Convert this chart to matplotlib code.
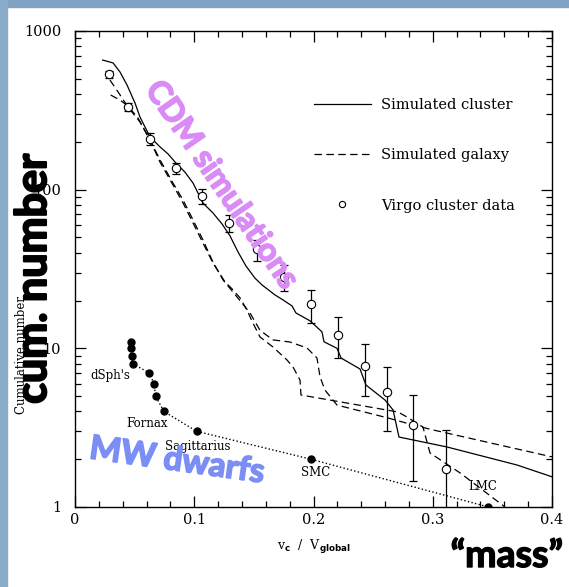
import matplotlib
matplotlib.use('Agg')
import matplotlib.pyplot as plt
import matplotlib.patheffects as pe
from matplotlib.ticker import MultipleLocator, LogLocator, NullFormatter, FuncFormatter
from matplotlib.patches import Rectangle
from matplotlib.lines import Line2D

# Simulated cluster (solid line)
cluster_x = [0.0232, 0.0319, 0.0377, 0.0436, 0.0503, 0.0545, 0.0629, 0.0713, 0.0780, 0.0847,
             0.0922, 0.0990, 0.1073, 0.1157, 0.1233, 0.1300, 0.1367, 0.1434, 0.1509, 0.1568,
             0.1677, 0.1744, 0.1820, 0.1853, 0.1971, 0.2071, 0.2088, 0.2197, 0.2231, 0.2390,
             0.2440, 0.2600, 0.2667, 0.2717, 0.3119, 0.3706, 0.4000]
cluster_y = [656, 629, 552, 457, 352, 287, 215, 186, 168, 147,
             129, 110, 82.4, 71.3, 60.8, 51.1, 40.5, 33.0, 27.7, 25.1,
             21.7, 20.2, 18.5, 16.7, 14.9, 12.7, 11.0, 10.0, 8.69, 7.41,
             5.87, 4.72, 4.09, 2.76, 2.39, 1.84, 1.55]

# Simulated galaxy, first run (dashed, ends at x = 0.4)
galA_x = [0.0293, 0.0361, 0.0444, 0.0545, 0.0629, 0.0713, 0.0822, 0.0906, 0.0990, 0.1073,
          0.1149, 0.1241, 0.1358, 0.1468, 0.1551, 0.1660, 0.1803, 0.1946, 0.2029, 0.2055,
          0.2096, 0.2197, 0.2625, 0.2834, 0.3002, 0.4000]
galA_y = [491, 413, 332, 267, 206, 154, 110, 86.1, 64.4, 48.2,
          36.0, 27.0, 21.1, 16.7, 13.0, 11.3, 10.96, 10.05, 8.69, 6.6,
          5.46, 4.39, 3.64, 3.29, 3.06, 2.07]

# Simulated galaxy, second run (dashed, drops down to 1)
galB_x = [0.0299, 0.0377, 0.0444, 0.0528, 0.0629, 0.0713, 0.0822, 0.0906, 0.0990, 0.1073,
          0.1157, 0.1258, 0.1317, 0.1384, 0.1442, 0.1493, 0.1551, 0.1660, 0.1778, 0.1828,
          0.1887, 0.1895, 0.2709, 0.2784, 0.2918, 0.2977, 0.3229, 0.3606]
galB_y = [395, 367, 337, 283, 206, 149, 107, 82.4, 61.6, 46.1,
          34.5, 26.2, 23.7, 20.8, 17.4, 14.4, 11.8, 10.2, 8.44, 7.63,
          6.31, 5.08, 3.97, 3.69, 3.19, 2.19, 1.64, 1.0]

# Virgo cluster data with error bars
virgo_x = [0.0285, 0.0447, 0.0629, 0.0844, 0.1068, 0.1294, 0.1524, 0.1755, 0.1976, 0.2208,
           0.2435, 0.2616, 0.2837, 0.3108]
virgo_y = [533, 330, 208, 136, 91, 62, 42, 28, 18.9, 12.2, 7.77, 5.33, 3.29, 1.74]
virgo_hi = [560, 350, 227, 148, 100.5, 69.3, 48.2, 33.5, 23.3, 15.7, 10.6, 7.66, 5.1, 3.06]
virgo_lo = [505, 313, 191, 125.5, 81.2, 54.1, 35.7, 23.1, 14.5, 8.65, 5.0, 3.0, 1.46, 0.5]

# Milky Way dwarfs
mw_x = [0.0467, 0.0467, 0.0475, 0.0484, 0.0623, 0.0662, 0.0676, 0.0746, 0.1020, 0.1979, 0.3466]
mw_y = [11, 10, 9, 8, 7, 6, 5, 4, 3, 2, 1]

# names of dwarfs
dwarf_names = ["dSph's", "Fornax", "Sagittarius", "SMC", "LMC"]
dwarf_lx = [0.0298, 0.0608, 0.1031, 0.2021, 0.3417]
dwarf_ly = [6.79, 3.38, 2.42, 1.64, 1.356]

W, H = 569, 587
fig = plt.figure(figsize=(W / 100, H / 100), dpi=100)
fig.patch.set_facecolor('white')

# slide border
fig.patches.append(Rectangle((0, 1 - 7 / H), 1, 7 / H, transform=fig.transFigure,
                             color='#7fa2c2', zorder=0))
fig.patches.append(Rectangle((0, 0), 6.5 / W, 1, transform=fig.transFigure,
                             color='#8aabca', zorder=0))

ax = fig.add_axes([75 / W, 80 / H, 477 / W, 476 / H])
serif = 'DejaVu Serif'
plt.rcParams['mathtext.fontset'] = 'dejavuserif'

l1, = ax.plot(cluster_x, cluster_y, color='black', lw=0.9)
l2, = ax.plot(galA_x, galA_y, color='black', lw=0.9, dashes=(6, 3.5))
ax.plot(galB_x, galB_y, color='black', lw=0.9, dashes=(6, 3.5))

yerr = [[v - lo for v, lo in zip(virgo_y, virgo_lo)], [hi - v for v, hi in zip(virgo_y, virgo_hi)]]
ax.errorbar(virgo_x, virgo_y, yerr=yerr, fmt='none', ecolor='black', elinewidth=0.9,
            capsize=3, capthick=0.9)
ax.plot(virgo_x, virgo_y, 'o', mfc='white', mec='black', ms=6, mew=0.8, zorder=3)

ax.plot(mw_x, mw_y, color='black', lw=1, ls=':', marker='o', ms=5, mfc='black', mec='black')
for name, lx, ly in zip(dwarf_names, dwarf_lx, dwarf_ly):
    ax.text(lx, ly, name, ha='center', va='center', fontsize=8.5, family=serif)

ax.set_yscale('log')
ax.set_xlim(0, 0.4)
ax.set_ylim(1, 1000)
ax.xaxis.set_major_locator(MultipleLocator(0.1))
ax.xaxis.set_minor_locator(MultipleLocator(0.02))
ax.xaxis.set_major_formatter(FuncFormatter(lambda v, p: '0' if abs(v) < 1e-9 else f'{v:.1f}'))
ax.yaxis.set_major_locator(LogLocator(base=10))
ax.yaxis.set_minor_locator(LogLocator(base=10, subs=range(2, 10)))
ax.yaxis.set_major_formatter(FuncFormatter(lambda v, p: f'{v:.0f}'))
ax.yaxis.set_minor_formatter(NullFormatter())
ax.tick_params(which='both', direction='in', top=True, right=True, width=0.9)
ax.tick_params(which='major', length=8)
ax.tick_params(which='minor', length=4)
ax.tick_params(axis='x', pad=4)
ax.tick_params(axis='y', pad=10)
for lab in ax.get_xticklabels() + ax.get_yticklabels():
    lab.set_family(serif)
    lab.set_fontsize(10.5)
for s in ax.spines.values():
    s.set_linewidth(1.0)

ax.set_xlabel(r'v$_\mathbf{c}$  /  V$_\mathbf{global}$', fontsize=9, family=serif, labelpad=8)

# legend
vh = Line2D([], [], ls='none', marker='o', mfc='white', mec='black', ms=4.5, mew=0.8)
leg = ax.legend([l1, l2, vh], ['Simulated cluster', 'Simulated galaxy', 'Virgo cluster data'],
                loc='upper left', bbox_to_anchor=(0.501, 0.860), frameon=False,
                handlelength=3.9, handletextpad=0.7, labelspacing=2.5, borderpad=0,
                borderaxespad=0, prop={'family': serif, 'size': 10.5})

# small original y label (mostly hidden behind the slide text)
fig.text(22 / W, 1 - 355 / H, 'Cumulative number', rotation=90, ha='center', va='center',
         fontsize=8.5, family=serif)

# slide annotations, made a bit heavier with a thin stroke
def heavy(color, w):
    return [pe.withStroke(linewidth=w, foreground=color)]

fig.text(33 / W, 1 - 279 / H, 'cum. number', rotation=90, ha='center', va='center',
         fontsize=31, family='Lato', weight='bold', color='black',
         path_effects=heavy('black', 1.5))
fig.text(507 / W, 1 - 556 / H, '\u201cmass\u201d', ha='center', va='center',
         fontsize=27, family='Lato', weight='bold', color='black',
         path_effects=heavy('black', 1))
fig.text(222 / W, 1 - 185 / H, 'CDM simulations', rotation=-55.4, rotation_mode='anchor',
         ha='center', va='center', fontsize=23, family='Lato', weight='bold',
         color='#d98cf5', zorder=5, path_effects=heavy('#d98cf5', 1.2))
fig.text(177 / W, 1 - 461 / H, 'MW dwarfs', rotation=-8, rotation_mode='anchor',
         ha='center', va='center', fontsize=24, family='Lato', weight='bold',
         color='#7b8ef6', zorder=5, path_effects=heavy('#7b8ef6', 1.2))

fig.savefig('out.png', dpi=100)
